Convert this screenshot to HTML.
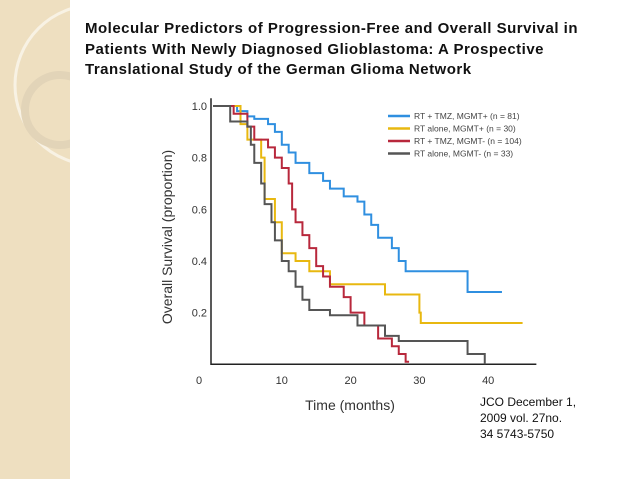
<!DOCTYPE html>
<html><head><meta charset="utf-8"><style>
body{margin:0;width:638px;height:479px;background:#fff;position:relative;overflow:hidden;font-family:"Liberation Sans",sans-serif}
.side{position:absolute;left:0;top:0;width:70px;height:479px;background:#eedfc0}
.title{position:absolute;left:85px;top:19px;font-size:15px;letter-spacing:0.5px;font-weight:bold;line-height:20.5px;color:#111;white-space:nowrap}
.cite{position:absolute;left:480px;top:394px;font-size:12px;line-height:16px;color:#111}
</style></head><body>
<div class="side">
<svg width="70" height="479"><circle cx="95" cy="85" r="80" fill="none" stroke="#f8f2e4" stroke-width="3"/><circle cx="60" cy="110" r="35" fill="none" stroke="#e2d4b8" stroke-width="8"/></svg>
</div>
<div class="title">Molecular Predictors of Progression-Free and Overall Survival in<br>Patients With Newly Diagnosed Glioblastoma: A Prospective<br>Translational Study of the German Glioma Network</div>
<div class="cite">JCO December 1,<br>2009 vol. 27no.<br>34 5743-5750</div>
<svg id="chart" width="638" height="479" style="position:absolute;left:0;top:0"></svg>
<script>
const xTicks=[0,10,20,30,40];
const yTicks=[0.2,0.4,0.6,0.8,1.0];
const seriesNames=["RT + TMZ, MGMT+ (n = 81)","RT alone, MGMT+ (n = 30)","RT + TMZ, MGMT- (n = 104)","RT alone, MGMT- (n = 33)"];
const seriesColors=["#2f8fe0","#e8b810","#b8283c","#555555"];
const blueT=[0,3,3.5,5,6,8,9,10,11,12,14,16,17,19,21,22,23,24,26,27,28,37,42];
const blueS=[1,1,0.98,0.96,0.95,0.93,0.9,0.85,0.82,0.78,0.74,0.71,0.68,0.65,0.63,0.58,0.54,0.49,0.45,0.4,0.36,0.28,0.28];
const yellowT=[0,3.5,4,5,7,7.5,9,10,12,14,17,25,30,30.2,45];
const yellowS=[1,1,0.93,0.87,0.8,0.64,0.55,0.43,0.4,0.36,0.31,0.27,0.2,0.16,0.16];
const redT=[0,2,3,5,6,8,9,10,11,11.5,12,13,14,15,16,17,19,20,22,24,26,27,28,28.5];
const redS=[1,1,0.97,0.92,0.87,0.84,0.8,0.76,0.7,0.6,0.55,0.5,0.45,0.38,0.34,0.3,0.26,0.2,0.15,0.1,0.07,0.04,0.01,0.01];
const grayT=[0,2,2.5,5,5.5,6,7,7.5,8.5,9,10,11,12,13,14,17,21,25,27,37,39.5];
const grayS=[1,1,0.94,0.92,0.85,0.78,0.7,0.62,0.55,0.48,0.4,0.36,0.3,0.25,0.21,0.19,0.15,0.11,0.09,0.04,0];
const X=t=>213+t*6.88, Y=s=>364.3-s*258.3;
const svg=document.getElementById('chart'),NS="http://www.w3.org/2000/svg";
function mk(tag,at,txt){const e=document.createElementNS(NS,tag);for(const k in at)e.setAttribute(k,at[k]);if(txt!=null)e.textContent=txt;svg.appendChild(e);return e;}
let a=mk('path',{d:`M${X(0)-2} ${Y(1.03)}V${Y(0)}H${X(47)}`,fill:'none',stroke:'#222','stroke-width':1.5});


xTicks.forEach(t=>{const e=mk('text',{x:t===0?X(t)-14:X(t),y:384,'font-size':11,'text-anchor':'middle',fill:'#333'},t);

});
yTicks.forEach(v=>{const e=mk('text',{x:207,y:Y(v)+4,'font-size':11,'text-anchor':'end',fill:'#333'},v.toFixed(1));

});
let xt=mk('text',{x:350,y:410,'font-size':14,'text-anchor':'middle',fill:'#333'},'Time (months)');


let yt=mk('text',{x:0,y:0,'font-size':14,'text-anchor':'middle',fill:'#333',transform:'translate(172,237) rotate(-90)'},'Overall Survival (proportion)');


const all=[[blueT,blueS],[yellowT,yellowS],[redT,redS],[grayT,grayS]];
all.forEach(([T,S],i)=>{let d=`M${X(T[0])} ${Y(S[0])}`;for(let k=1;k<T.length;k++){d+=`H${X(T[k])}V${Y(S[k])}`;}
const p=mk('path',{d,fill:'none',stroke:seriesColors[i],'stroke-width':2});


const ly=116+i*12.5;
const ll=mk('line',{x1:388,x2:410,y1:ly,y2:ly,stroke:seriesColors[i],'stroke-width':2.5});


const lt=mk('text',{x:414,y:ly+3,'font-size':8.5,fill:'#444'},seriesNames[i]);

});
</script>
</body></html>
